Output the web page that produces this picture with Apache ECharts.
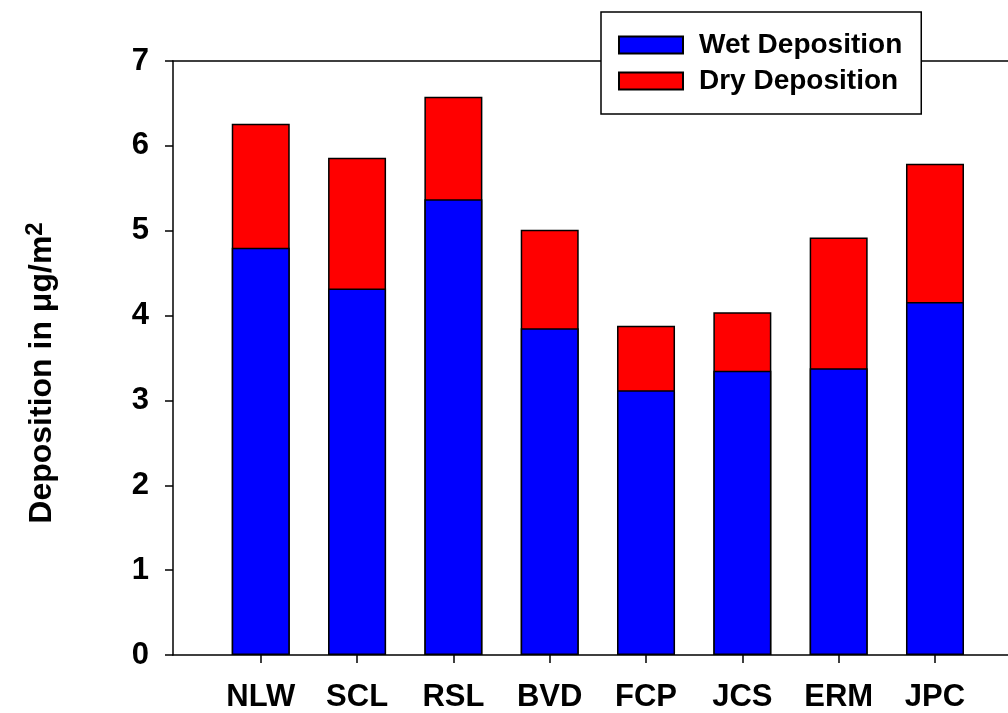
<!DOCTYPE html>
<html>
<head>
<meta charset="utf-8">
<script src="https://cdn.jsdelivr.net/npm/echarts@6/dist/echarts.min.js"></script>
<style>
html,body{margin:0;padding:0;background:#fff;}
#chart{width:1008px;height:713px;}
</style>
</head>
<body>
<div id="chart"></div>
<script>
const categories = ['NLW', 'SCL', 'RSL', 'BVD', 'FCP', 'JCS', 'ERM', 'JPC'];
const wetDeposition = [4.80, 4.32, 5.37, 3.85, 3.12, 3.35, 3.38, 4.16];
const dryDeposition = [1.46, 1.54, 1.21, 1.16, 0.76, 0.69, 1.54, 1.63];
const yTicks = [0, 1, 2, 3, 4, 5, 6, 7];

const FONT = '"Liberation Sans", Arial, sans-serif';
const catIdx = categories.map((c, i) => i);
const wetPairs = wetDeposition.map((v, i) => [i, v]);
// dry stacked on top of wet: its bar reaches the total (wet + dry)
const totalPairs = dryDeposition.map((v, i) => [i, wetDeposition[i] + v]);

const chart = echarts.init(document.getElementById('chart'), null, {renderer: 'canvas'});
const axisLineStyle = {color: '#000', width: 1.5};

chart.setOption({
  animation: false,
  backgroundColor: '#fff',
  grid: {left: 173, right: 0, top: 61, bottom: 58, containLabel: false},
  legend: {
    left: 601, top: 12, orient: 'vertical',
    padding: [18, 19, 18, 17],
    itemWidth: 64, itemHeight: 17, itemGap: 6,
    backgroundColor: '#fff', borderColor: '#000', borderWidth: 1.5,
    icon: 'rect',
    textStyle: {fontFamily: FONT, fontWeight: 'bold', fontSize: 28, color: '#000', lineHeight: 30, padding: [0, 0, 0, 11]},
    data: ['Wet Deposition', 'Dry Deposition']
  },
  xAxis: [{
    type: 'value', position: 'bottom',
    min: -0.911, max: 7.758,
    axisLine: {show: true, onZero: false, lineStyle: axisLineStyle},
    axisTick: {show: true, inside: false, length: 8, lineStyle: axisLineStyle, customValues: catIdx},
    axisLabel: {show: true, customValues: catIdx, margin: 27,
      formatter: v => categories[Math.round(v)] || '',
      fontFamily: FONT, fontWeight: 'bold', fontSize: 31, color: '#000'},
    splitLine: {show: false}
  }, {
    type: 'value', position: 'top',
    min: -0.911, max: 7.758,
    axisLine: {show: true, onZero: false, lineStyle: axisLineStyle},
    axisTick: {show: false}, axisLabel: {show: false}, splitLine: {show: false}
  }],
  yAxis: {
    type: 'value', min: 0, max: 7, interval: 1,
    axisLine: {show: true, onZero: false, lineStyle: axisLineStyle},
    axisTick: {show: true, inside: false, length: 8, lineStyle: axisLineStyle},
    axisLabel: {margin: 24, fontFamily: FONT, fontWeight: 'bold', fontSize: 31, color: '#000',
      formatter: v => yTicks.includes(v) ? String(v) : ''},
    splitLine: {show: false},
    name: 'Deposition in μg/m{sup|2}',
    nameLocation: 'middle', nameRotate: 90, nameGap: 112,
    nameTextStyle: {fontFamily: FONT, fontWeight: 'bold', fontSize: 32, color: '#000', padding: [0, 30, 0, 0],
      rich: {sup: {fontFamily: FONT, fontWeight: 'bold', fontSize: 24, color: '#000', verticalAlign: 'top', padding: [0, 0, 14, 0]}}}
  },
  series: [{
    name: 'Dry Deposition', type: 'bar', xAxisIndex: 0,
    barWidth: 58, barGap: '-100%', z: 2,
    itemStyle: {color: '#FF0000', borderColor: '#000', borderWidth: 1.5},
    data: totalPairs
  }, {
    name: 'Wet Deposition', type: 'bar', xAxisIndex: 0,
    barWidth: 58, barGap: '-100%', z: 3,
    itemStyle: {color: '#0000FF', borderColor: '#000', borderWidth: 1.5},
    data: wetPairs
  }]
});
</script>
</body>
</html>
